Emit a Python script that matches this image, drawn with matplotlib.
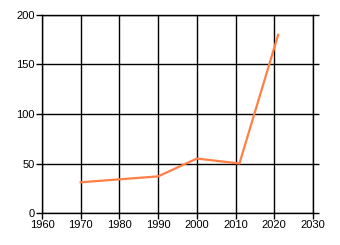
import matplotlib
matplotlib.use('Agg')
import matplotlib.pyplot as plt

years = [1970, 1990, 2000, 2011, 2021]
values = [31, 37, 55, 50, 180]
xticks = [1960, 1970, 1980, 1990, 2000, 2010, 2020, 2030]
yticks = [0, 50, 100, 150, 200]

plt.rcParams['font.family'] = ['Liberation Sans', 'DejaVu Sans']

fig = plt.figure(figsize=(3.4, 2.45), dpi=100)
ax = fig.add_axes([42/340, 32/245, 271/340, 198/245])

ax.plot(years, values, color='#ff7f45', linewidth=1.6, zorder=3)

ax.set_xlim(1960, 2030)
ax.set_ylim(0, 200)
ax.set_xticks(xticks)
ax.set_yticks(yticks)
ax.grid(True, color='black', linewidth=1)
for s in ax.spines.values():
    s.set_color('black')
    s.set_linewidth(1)
ax.tick_params(direction='out', length=4, width=1, labelsize=8, pad=1,
               right=True, top=False)

fig.savefig('out.png', dpi=100)
